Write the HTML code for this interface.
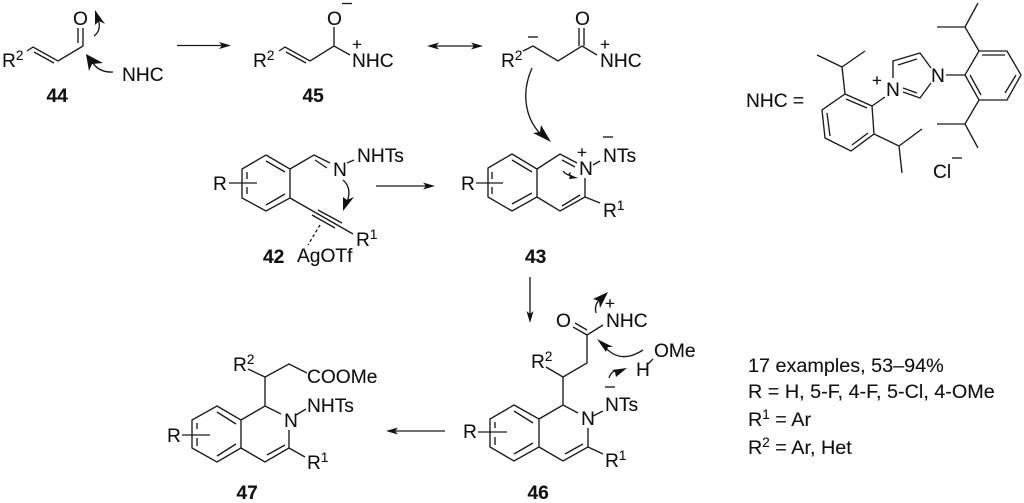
<!DOCTYPE html>
<html><head><meta charset="utf-8"><style>
html,body{margin:0;padding:0;background:#fff}
svg{display:block}
text{font-family:"Liberation Sans",sans-serif;font-size:19.2px;fill:#111;stroke:#111;stroke-width:.12}
.b{font-weight:bold}
.s{font-size:13.5px}
.t{font-size:19.8px}
path{fill:none;stroke:#1a1a1a;stroke-width:1.35}
polygon{fill:#111;stroke:none}
</style></head><body>
<svg width="1024" height="503" viewBox="0 0 1024 503" xmlns="http://www.w3.org/2000/svg">
<!-- 44 -->
<path d="M27 51L33 47L58 61L83 46M34 52L54 63M78 28V43M83 28V46"/>
<text x="2" y="67">R<tspan class="s" dy="-7">2</tspan></text>
<text x="73" y="25">O</text>
<text x="122" y="81">NHC</text>
<text class="b" x="46.500" y="102">44</text>
<path d="M94 36Q102 30 98 19"/>
<polygon points="95,10 105,24 99,21 95,25"/>
<path d="M113 72Q98 73 91 60"/>
<polygon points="86,54 89,71 92,64 103,63"/>
<!-- arrow 44-45 -->
<path d="M177 45.500H224"/><polygon points="231,45.500 219,42 222,45.500 219,49"/>
<!-- 45 -->
<path d="M279 51L285 47L310 61L334 46L350 55M286 52L306 63M334 27V46"/>
<text x="253" y="67">R<tspan class="s" dy="-7">2</tspan></text>
<text x="327" y="25">O</text>
<path d="M342 3.500H352"/>
<text x="352" y="67">NHC</text>
<text x="352" y="50" style="font-size:17px">+</text>
<text class="b" x="302.500" y="102">45</text>
<!-- double arrow -->
<path d="M432 46H478"/><polygon points="427,46 439,42.500 436,46 439,49.500"/><polygon points="483,46 471,42.500 474,46 471,49.500"/>
<!-- anion -->
<text x="501" y="67">R<tspan class="s" dy="-7">2</tspan></text>
<path d="M523 51L533 46L558 61L582 46L597 55M579 28V46M584 28V46"/>
<path d="M528 37H538"/>
<text x="575" y="25">O</text>
<text x="600" y="67">NHC</text>
<text x="600" y="50" style="font-size:17px">+</text>
<path d="M532 68C520 95 526 122 544 137"/>
<polygon points="551,142 533,133 540,132 541,125"/>
<!-- 42 -->
<path d="M266 155L290 169V198L266 211L242 198V169ZM266 161L285 172M266 205L285 194M247 172V179M247 187V194M290 169L314 155L330 163M315 160L327 168M290 198L353 234M318 210L342 223M312 215L335 228M229 183H257M347 163L354 160"/>
<text x="213" y="190">R</text>
<text x="333" y="176">N</text>
<text x="357" y="162">NHTs</text>
<text x="356" y="246">R<tspan class="s" dy="-7">1</tspan></text>
<text x="297" y="262">AgOTf</text>
<text class="b" x="263" y="263">42</text>
<path d="M320 225L308 245" style="stroke-dasharray:3 2.500"/>
<path d="M343 180C350 186 350 194 347 202"/>
<polygon points="343,211 343,197 347,200 354,197"/>
<!-- arrow 42-43 -->
<path d="M376 186H428"/><polygon points="435,186 423,182.500 426,186 423,189.500"/>
<!-- 43 -->
<path d="M512 154L537 169V197L512 211L488 197V168ZM512 160L532 172M512 204L532 193M492 172V179M492 187V194M537 169L560 154L577 163M562 160L575 167M585 178V197L560 211L537 197M562 206L580 195M585 197L600 203M476 183H503M593 165L600 161"/>
<text x="461" y="190">R</text>
<text x="579" y="175">N</text>
<text x="577" y="158" style="font-size:17px">+</text>
<text x="603" y="162">NTs</text>
<path d="M603 137H613"/>
<text x="603" y="217">R<tspan class="s" dy="-7">1</tspan></text>
<text class="b" x="525" y="263">43</text>
<path d="M563 171Q566 175 572 176"/>
<polygon points="578,178 568,174 571,172 569,179"/>
<!-- NHC cation -->
<text x="746" y="107">NHC =</text>
<path d="M845 94L872 106L874 134L851 151L825 138L822 110ZM846 99L867 108M868 133L852 145M827 113L830 136M845 94L842 67L817 55M842 67L865 51M874 134L899 146L922 129M899 146L902 173M872 106L885 97"/>
<text x="886" y="96">N</text>
<text x="872" y="86" style="font-size:17px">+</text>
<text x="931" y="82">N</text>
<path d="M893 78V61L920 53L931 68M898 65L917 59M931 83L920 98L903 92M917 93L903 88M946 75H965L979 51H1007L1021 75L1007 100H979L965 75M982 55H1005M1016 75L1005 93M970 75L981 95M979 51L965 27H937M965 27L978 3M979 100L965 124H937M965 124L978 148"/>
<text x="933" y="178">Cl</text>
<path d="M952 158H962"/>
<!-- down arrow -->
<path d="M530 277V316"/><polygon points="530,323 526.500,311 530,314 533.500,311"/>
<!-- 46 -->
<path d="M514 405L539 419V447L514 461L490 447V419ZM514 411L533 423M514 454L533 443M495 422V428M495 437V445M539 419L563 405L578 413M588 428V447L563 461L539 447M565 454L583 444M588 447L603 454M478 432H507M593 416L603 411M563 405V377L587 363V335L603 325M563 377L546 367M587 335L573 327M587 330L575 323"/>
<text x="463" y="438">R</text>
<text x="581" y="425">N</text>
<text x="605" y="467">R<tspan class="s" dy="-7">1</tspan></text>
<text x="605" y="411">NTs</text>
<path d="M605 387H615"/>
<text x="531" y="368">R<tspan class="s" dy="-7">2</tspan></text>
<text x="556" y="327">O</text>
<text x="606" y="327">NHC</text>
<text x="605" y="309" style="font-size:17px">+</text>
<text x="636" y="376">H</text>
<text x="654" y="357">OMe</text>
<path d="M647 365L653 359"/>
<path d="M596 313Q594 305 600 299"/>
<polygon points="608,292 593,299 599,301 600,308"/>
<path d="M643 350Q620 365 604 346"/>
<polygon points="597,339 606,352 608,347 613,347"/>
<path d="M609 378Q611 371 618 370"/>
<polygon points="627,368 612,370 615,372 616,377"/>
<text class="b" x="527.500" y="499">46</text>
<!-- arrow 46-47 -->
<path d="M445 431H393"/><polygon points="386,431 398,427.500 395,431 398,434.500"/>
<!-- 47 -->
<path d="M217 406L241 420V448L217 462L192 448V420ZM217 412L236 424M217 456L236 444M197 423V429M197 438V446M241 420L265 406L281 414M289 430V448L265 462L241 448M267 455L285 445M289 448L305 457M182 435H210M296 415L306 409M265 406V377L289 364L307 373M265 377L248 369"/>
<text x="167" y="442">R</text>
<text x="284" y="427">N</text>
<text x="307" y="469">R<tspan class="s" dy="-7">1</tspan></text>
<text x="307" y="412">NHTs</text>
<text x="233" y="371">R<tspan class="s" dy="-7">2</tspan></text>
<text x="307" y="383">COOMe</text>
<text class="b" x="236.500" y="499">47</text>
<!-- notes -->
<text class="t" x="748" y="372">17 examples, 53–94%</text>
<text class="t" x="748" y="398">R = H, 5-F, 4-F, 5-Cl, 4-OMe</text>
<text class="t" x="748" y="426">R<tspan class="s" dy="-7">1</tspan><tspan dy="7"> = Ar</tspan></text>
<text class="t" x="748" y="454">R<tspan class="s" dy="-7">2</tspan><tspan dy="7"> = Ar, Het</tspan></text>
</svg>
</body></html>
